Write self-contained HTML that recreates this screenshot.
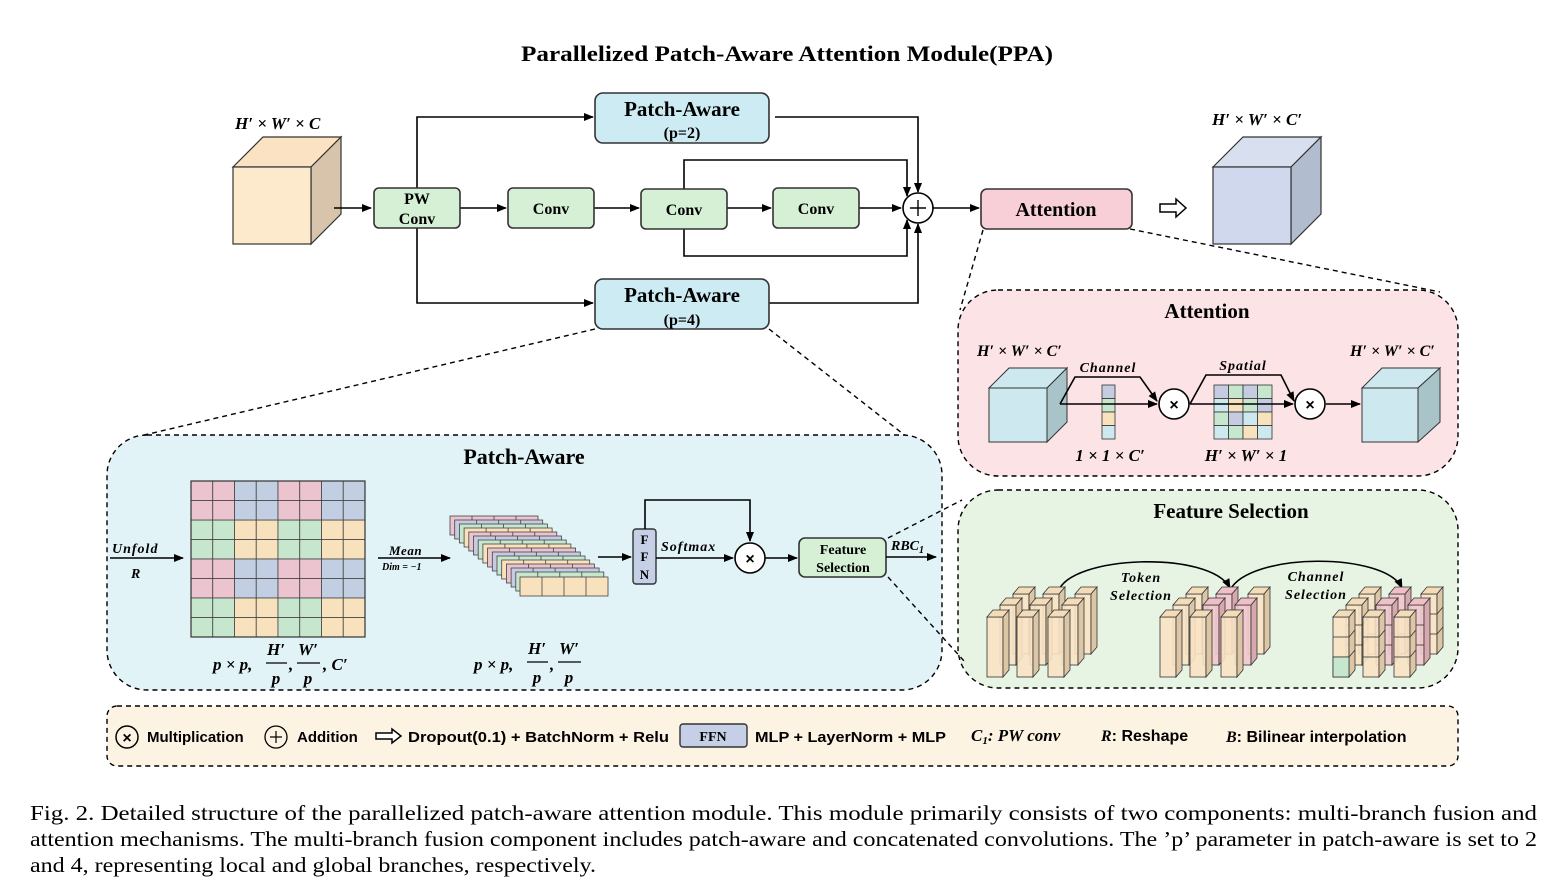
<!DOCTYPE html>
<html><head><meta charset="utf-8"><style>
html,body{margin:0;padding:0;background:#fff;}
svg{display:block;}
.s{font-family:"Liberation Serif",serif;font-weight:bold;}
.i{font-family:"Liberation Serif",serif;font-weight:bold;font-style:italic;}
.l{font-family:"Liberation Sans",sans-serif;font-weight:bold;font-size:15px;}
.c{font-family:"Liberation Serif",serif;font-size:21px;}
.box{stroke:#333;stroke-width:1.6;}
.ln{stroke:#000;stroke-width:1.6;fill:none;}
.dash{stroke:#000;stroke-width:1.4;stroke-dasharray:5 4;}
</style></head><body>
<svg width="1552" height="880" viewBox="0 0 1552 880" xmlns="http://www.w3.org/2000/svg">
<defs>
<marker id="a" markerWidth="10" markerHeight="10" refX="9" refY="5" orient="auto" markerUnits="userSpaceOnUse"><path d="M0,1 L10,5 L0,9 z" fill="#000"/></marker>
<g id="colP"><rect x="0" y="0" width="16" height="60" fill="#f9e3c4" fill-opacity="0.9" stroke="#333" stroke-width="0.8"/><polygon points="0,0 6,-7 22,-7 16,0" fill="#f5dcb8" stroke="#333" stroke-width="0.8"/><polygon points="16,0 22,-7 22,53 16,60" fill="#dcc6a6" stroke="#333" stroke-width="0.8"/></g>
<g id="colK"><rect x="0" y="0" width="16" height="60" fill="#f2c6cc" fill-opacity="0.9" stroke="#333" stroke-width="0.8"/><polygon points="0,0 6,-7 22,-7 16,0" fill="#f0c0c8" stroke="#333" stroke-width="0.8"/><polygon points="16,0 22,-7 22,53 16,60" fill="#d7a8ae" stroke="#333" stroke-width="0.8"/></g>
<g id="colS"><use href="#colP"/><line x1="0" y1="20" x2="16" y2="20" stroke="#333" stroke-width="0.8"/><line x1="0" y1="40" x2="16" y2="40" stroke="#333" stroke-width="0.8"/><line x1="16" y1="20" x2="22" y2="13" stroke="#333" stroke-width="0.8"/><line x1="16" y1="40" x2="22" y2="33" stroke="#333" stroke-width="0.8"/></g>
<g id="colSK"><use href="#colK"/><line x1="0" y1="20" x2="16" y2="20" stroke="#333" stroke-width="0.8"/><line x1="0" y1="40" x2="16" y2="40" stroke="#333" stroke-width="0.8"/></g>
</defs>

<text class="s" x="787" y="61" font-size="22" text-anchor="middle" textLength="532" lengthAdjust="spacingAndGlyphs">Parallelized Patch-Aware Attention Module(PPA)</text>

<!-- input cube -->
<polygon points="233,167 263,137 341,137 311,167" fill="#fbe2c2" stroke="#333" stroke-width="1.2"/>
<polygon points="311,167 341,137 341,214 311,244" fill="#d8c4ab" stroke="#333" stroke-width="1.2"/>
<rect x="233" y="167" width="78" height="77" fill="#fde9cc" stroke="#333" stroke-width="1.2"/>
<text class="i" x="235" y="129" font-size="17">H′ × W′ × C</text>

<!-- connectors -->
<path class="ln" d="M334,208 H371" marker-end="url(#a)"/>
<path class="ln" d="M460,208 H506" marker-end="url(#a)"/>
<path class="ln" d="M594,208 H639" marker-end="url(#a)"/>
<path class="ln" d="M727,208 H771" marker-end="url(#a)"/>
<path class="ln" d="M859,208 H901" marker-end="url(#a)"/>
<path class="ln" d="M417,188 V117 H593" marker-end="url(#a)"/>
<path class="ln" d="M417,228 V303 H593" marker-end="url(#a)"/>
<path class="ln" d="M775,117 H918 V192" marker-end="url(#a)"/>
<path class="ln" d="M769,303 H918 V224" marker-end="url(#a)"/>
<path class="ln" d="M684,189 V160 H907 V196" marker-end="url(#a)"/>
<path class="ln" d="M684,229 V256 H907 V220" marker-end="url(#a)"/>
<path class="ln" d="M933,208 H979" marker-end="url(#a)"/>
<circle cx="918" cy="208" r="15" fill="#fff" stroke="#000" stroke-width="1.6"/>
<path d="M910,208 H926 M918,200 V216" stroke="#000" stroke-width="1.4"/>

<rect class="box" x="374" y="188" width="86" height="40" rx="5" fill="#d5f0d4"/>
<text class="s" x="417" y="204" font-size="16" text-anchor="middle">PW</text>
<text class="s" x="417" y="224" font-size="16" text-anchor="middle">Conv</text>
<rect class="box" x="508" y="188" width="86" height="40" rx="5" fill="#d5f0d4"/>
<text class="s" x="551" y="214" font-size="16" text-anchor="middle">Conv</text>
<rect class="box" x="641" y="189" width="86" height="40" rx="5" fill="#d5f0d4"/>
<text class="s" x="684" y="215" font-size="16" text-anchor="middle">Conv</text>
<rect class="box" x="773" y="188" width="86" height="40" rx="5" fill="#d5f0d4"/>
<text class="s" x="816" y="214" font-size="16" text-anchor="middle">Conv</text>

<rect class="box" x="595" y="93" width="174" height="50" rx="8" fill="#cdebf3"/>
<text class="s" x="682" y="116" font-size="21" text-anchor="middle">Patch-Aware</text>
<text class="s" x="682" y="138" font-size="16" text-anchor="middle">(p=2)</text>
<rect class="box" x="595" y="279" width="174" height="50" rx="8" fill="#cdebf3"/>
<text class="s" x="682" y="302" font-size="21" text-anchor="middle">Patch-Aware</text>
<text class="s" x="682" y="325" font-size="16" text-anchor="middle">(p=4)</text>

<rect class="box" x="981" y="189" width="151" height="40" rx="6" fill="#f8cfd7"/>
<text class="s" x="1056" y="216" font-size="20" text-anchor="middle">Attention</text>

<path d="M1160,204 H1176 V199 L1186,208 L1176,217 V212 H1160 Z" fill="#fff" stroke="#000" stroke-width="1.5"/>

<!-- output cube -->
<polygon points="1213,167 1243,137 1321,137 1291,167" fill="#d8e0f0" stroke="#333" stroke-width="1.2"/>
<polygon points="1291,167 1321,137 1321,214 1291,244" fill="#b2bccf" stroke="#333" stroke-width="1.2"/>
<rect x="1213" y="167" width="78" height="77" fill="#cfd8ec" stroke="#333" stroke-width="1.2"/>
<text class="i" x="1212" y="125" font-size="17">H′ × W′ × C′</text>

<!-- dashed zoom lines -->
<path class="dash" style="fill:none" d="M983,230 L960,310"/>
<path class="dash" style="fill:none" d="M1130,229 L1440,292"/>
<path class="dash" style="fill:none" d="M595,329 L140,436"/>
<path class="dash" style="fill:none" d="M769,329 L930,455"/>

<!-- Attention panel -->
<rect class="dash" style="fill:#fbe3e6" x="958" y="290" width="500" height="186" rx="40"/>
<text class="s" x="1207" y="318" font-size="21" text-anchor="middle">Attention</text>
<text class="i" x="977" y="356" font-size="16">H′ × W′ × C′</text>
<text class="i" x="1350" y="356" font-size="16">H′ × W′ × C′</text>
<polygon points="989,388 1009,368 1067,368 1047,388" fill="#cde8ee" stroke="#333" stroke-width="1"/>
<polygon points="1047,388 1067,368 1067,422 1047,442" fill="#a8c4c9" stroke="#333" stroke-width="1"/>
<rect x="989" y="388" width="58" height="54" fill="#cde8ee" stroke="#333" stroke-width="1"/>
<polygon points="1362,388 1382,368 1440,368 1418,388" fill="#cde8ee" stroke="#333" stroke-width="1"/>
<polygon points="1418,388 1440,368 1440,422 1418,442" fill="#a8c4c9" stroke="#333" stroke-width="1"/>
<rect x="1362" y="388" width="56" height="54" fill="#cde8ee" stroke="#333" stroke-width="1"/>
<rect x="1102" y="385" width="13" height="13.5" fill="#c5cce2" stroke="#333" stroke-width="0.8"/>
<rect x="1102" y="398.5" width="13" height="13.5" fill="#c6e6cd" stroke="#333" stroke-width="0.8"/>
<rect x="1102" y="412" width="13" height="13.5" fill="#f8e2bd" stroke="#333" stroke-width="0.8"/>
<rect x="1102" y="425.5" width="13" height="13.5" fill="#cde8ee" stroke="#333" stroke-width="0.8"/>
<g stroke="#333" stroke-width="0.8">
<rect x="1214" y="385" width="14.5" height="13.5" fill="#c5cce2"/><rect x="1228.5" y="385" width="14.5" height="13.5" fill="#c6e6cd"/><rect x="1243" y="385" width="14.5" height="13.5" fill="#c5cce2"/><rect x="1257.5" y="385" width="14.5" height="13.5" fill="#c6e6cd"/>
<rect x="1214" y="398.5" width="14.5" height="13.5" fill="#cde8ee"/><rect x="1228.5" y="398.5" width="14.5" height="13.5" fill="#f8e2bd"/><rect x="1243" y="398.5" width="14.5" height="13.5" fill="#c6e6cd"/><rect x="1257.5" y="398.5" width="14.5" height="13.5" fill="#c5cce2"/>
<rect x="1214" y="412" width="14.5" height="13.5" fill="#c6e6cd"/><rect x="1228.5" y="412" width="14.5" height="13.5" fill="#c5cce2"/><rect x="1243" y="412" width="14.5" height="13.5" fill="#cde8ee"/><rect x="1257.5" y="412" width="14.5" height="13.5" fill="#f8e2bd"/>
<rect x="1214" y="425.5" width="14.5" height="13.5" fill="#cde8ee"/><rect x="1228.5" y="425.5" width="14.5" height="13.5" fill="#c6e6cd"/><rect x="1243" y="425.5" width="14.5" height="13.5" fill="#f8e2bd"/><rect x="1257.5" y="425.5" width="14.5" height="13.5" fill="#cde8ee"/>
</g>
<path class="ln" d="M1060,404 L1075,377 H1140 L1157,401" marker-end="url(#a)"/>
<path class="ln" d="M1060,404 H1157" marker-end="url(#a)"/>
<path class="ln" d="M1190,404 L1206,375 H1281 L1294,401" marker-end="url(#a)"/>
<path class="ln" d="M1190,404 H1293" marker-end="url(#a)"/>
<path class="ln" d="M1326,404 H1360" marker-end="url(#a)"/>
<circle cx="1174" cy="404" r="15" fill="#fff" stroke="#000" stroke-width="1.6"/>
<text x="1174" y="410" font-family="Liberation Sans,sans-serif" font-size="16" font-weight="bold" text-anchor="middle">×</text>
<circle cx="1310" cy="404" r="15" fill="#fff" stroke="#000" stroke-width="1.6"/>
<text x="1310" y="410" font-family="Liberation Sans,sans-serif" font-size="16" font-weight="bold" text-anchor="middle">×</text>
<text class="i" x="1108" y="372" font-size="14" text-anchor="middle" letter-spacing="1">Channel</text>
<text class="i" x="1243" y="370" font-size="14" text-anchor="middle" letter-spacing="1">Spatial</text>
<text class="i" x="1110" y="461" font-size="17" text-anchor="middle">1 × 1 × C′</text>
<text class="i" x="1246" y="461" font-size="17" text-anchor="middle">H′ × W′ × 1</text>

<!-- Feature Selection panel -->
<rect class="dash" style="fill:#e7f4e4" x="958" y="490" width="500" height="198" rx="40"/>
<text class="s" x="1231" y="518" font-size="21" text-anchor="middle">Feature Selection</text>
<path class="ln" d="M1058,592 C1070,555 1210,550 1230,588" marker-end="url(#a)"/>
<path class="ln" d="M1230,590 C1250,552 1385,552 1402,588" marker-end="url(#a)"/>
<text class="i" x="1141" y="582" font-size="14" text-anchor="middle" letter-spacing="1">Token</text>
<text class="i" x="1141" y="600" font-size="14" text-anchor="middle" letter-spacing="1">Selection</text>
<text class="i" x="1316" y="581" font-size="14" text-anchor="middle" letter-spacing="1">Channel</text>
<text class="i" x="1316" y="599" font-size="14" text-anchor="middle" letter-spacing="1">Selection</text>
<use href="#colP" x="1013" y="594"/><use href="#colP" x="1043" y="594"/><use href="#colP" x="1075" y="594"/>
<use href="#colP" x="1000" y="605"/><use href="#colP" x="1030" y="605"/><use href="#colP" x="1062" y="605"/>
<use href="#colP" x="987" y="617"/><use href="#colP" x="1017" y="617"/><use href="#colP" x="1048" y="617"/>
<use href="#colP" x="1186" y="594"/><use href="#colK" x="1216" y="594"/><use href="#colP" x="1248" y="594"/>
<use href="#colP" x="1173" y="605"/><use href="#colK" x="1203" y="605"/><use href="#colK" x="1235" y="605"/>
<use href="#colP" x="1160" y="617"/><use href="#colP" x="1190" y="617"/><use href="#colP" x="1221" y="617"/>
<use href="#colS" x="1359" y="594"/><use href="#colSK" x="1389" y="594"/><use href="#colS" x="1421" y="594"/>
<use href="#colS" x="1346" y="605"/><use href="#colSK" x="1376" y="605"/><use href="#colSK" x="1408" y="605"/>
<use href="#colS" x="1333" y="617"/><use href="#colS" x="1363" y="617"/><use href="#colS" x="1394" y="617"/>
<rect x="1333" y="657" width="16" height="20" fill="#c6e6cd" stroke="#333" stroke-width="0.8"/>

<!-- Patch-Aware panel -->
<rect class="dash" style="fill:#e2f3f7" x="107" y="435" width="835" height="255" rx="40"/>
<text class="s" x="524" y="464" font-size="22" text-anchor="middle">Patch-Aware</text>
<path class="ln" d="M110,558 H183" marker-end="url(#a)"/>
<text class="i" x="112" y="553" font-size="14" letter-spacing="1">Unfold</text>
<text class="i" x="131" y="578" font-size="14">R</text>
<g stroke="#444" stroke-width="0.8">
<g id="rA"><rect x="191" y="481" width="21.75" height="19.5" fill="#ebc4cf"/><rect x="212.75" y="481" width="21.75" height="19.5" fill="#ebc4cf"/><rect x="234.5" y="481" width="21.75" height="19.5" fill="#c2cfe2"/><rect x="256.25" y="481" width="21.75" height="19.5" fill="#c2cfe2"/><rect x="278" y="481" width="21.75" height="19.5" fill="#ebc4cf"/><rect x="299.75" y="481" width="21.75" height="19.5" fill="#ebc4cf"/><rect x="321.5" y="481" width="21.75" height="19.5" fill="#c2cfe2"/><rect x="343.25" y="481" width="21.75" height="19.5" fill="#c2cfe2"/></g>
<g id="rB"><rect x="191" y="520" width="21.75" height="19.5" fill="#c6e6cd"/><rect x="212.75" y="520" width="21.75" height="19.5" fill="#c6e6cd"/><rect x="234.5" y="520" width="21.75" height="19.5" fill="#f8e2bd"/><rect x="256.25" y="520" width="21.75" height="19.5" fill="#f8e2bd"/><rect x="278" y="520" width="21.75" height="19.5" fill="#c6e6cd"/><rect x="299.75" y="520" width="21.75" height="19.5" fill="#c6e6cd"/><rect x="321.5" y="520" width="21.75" height="19.5" fill="#f8e2bd"/><rect x="343.25" y="520" width="21.75" height="19.5" fill="#f8e2bd"/></g>
<use href="#rA" y="19.5"/><use href="#rB" y="19.5"/><use href="#rA" y="78"/><use href="#rA" y="97.5"/><use href="#rB" y="78"/><use href="#rB" y="97.5"/>
</g>
<rect x="191" y="481" width="174" height="156" fill="none" stroke="#333" stroke-width="1.2"/>
<g class="i" font-size="17">
<text x="213" y="670">p × p,</text>
<text x="276" y="655" text-anchor="middle">H′</text><line x1="266" y1="663" x2="287" y2="663" stroke="#000" stroke-width="1.2"/><text x="276" y="684" text-anchor="middle">p</text>
<text x="289" y="670">,</text>
<text x="308" y="655" text-anchor="middle">W′</text><line x1="297" y1="663" x2="320" y2="663" stroke="#000" stroke-width="1.2"/><text x="308" y="684" text-anchor="middle">p</text>
<text x="323" y="670">, C′</text>
<text x="474" y="670">p × p,</text>
<text x="537" y="654" text-anchor="middle">H′</text><line x1="527" y1="662" x2="548" y2="662" stroke="#000" stroke-width="1.2"/><text x="537" y="683" text-anchor="middle">p</text>
<text x="550" y="670">,</text>
<text x="569" y="654" text-anchor="middle">W′</text><line x1="558" y1="662" x2="581" y2="662" stroke="#000" stroke-width="1.2"/><text x="569" y="683" text-anchor="middle">p</text>
</g>
<path class="ln" d="M378,558 H450" marker-end="url(#a)"/>
<text class="i" x="389" y="555" font-size="13" letter-spacing="0.5">Mean</text>
<text class="i" x="382" y="570" font-size="10">Dim = −1</text>
<g stroke="#444" stroke-width="0.8">
<g transform="translate(450,516)"><rect width="88" height="19" fill="#ebc4cf"/><path d="M22,0V19M44,0V19M66,0V19"/></g>
<g transform="translate(454.7,520)"><rect width="88" height="19" fill="#c5cce2"/><path d="M22,0V19M44,0V19M66,0V19"/></g>
<g transform="translate(459.4,524)"><rect width="88" height="19" fill="#c6e6cd"/><path d="M22,0V19M44,0V19M66,0V19"/></g>
<g transform="translate(464.1,528)"><rect width="88" height="19" fill="#f8e2bd"/><path d="M22,0V19M44,0V19M66,0V19"/></g>
<g transform="translate(468.8,532)"><rect width="88" height="19" fill="#ebc4cf"/><path d="M22,0V19M44,0V19M66,0V19"/></g>
<g transform="translate(473.5,536)"><rect width="88" height="19" fill="#c5cce2"/><path d="M22,0V19M44,0V19M66,0V19"/></g>
<g transform="translate(478.2,540)"><rect width="88" height="19" fill="#c6e6cd"/><path d="M22,0V19M44,0V19M66,0V19"/></g>
<g transform="translate(482.9,544)"><rect width="88" height="19" fill="#f8e2bd"/><path d="M22,0V19M44,0V19M66,0V19"/></g>
<g transform="translate(487.6,548)"><rect width="88" height="19" fill="#ebc4cf"/><path d="M22,0V19M44,0V19M66,0V19"/></g>
<g transform="translate(492.3,552)"><rect width="88" height="19" fill="#c5cce2"/><path d="M22,0V19M44,0V19M66,0V19"/></g>
<g transform="translate(497,556)"><rect width="88" height="19" fill="#c6e6cd"/><path d="M22,0V19M44,0V19M66,0V19"/></g>
<g transform="translate(501.7,560)"><rect width="88" height="19" fill="#f8e2bd"/><path d="M22,0V19M44,0V19M66,0V19"/></g>
<g transform="translate(506.4,564)"><rect width="88" height="19" fill="#ebc4cf"/><path d="M22,0V19M44,0V19M66,0V19"/></g>
<g transform="translate(511.1,568)"><rect width="88" height="19" fill="#c5cce2"/><path d="M22,0V19M44,0V19M66,0V19"/></g>
<g transform="translate(515.8,572)"><rect width="88" height="19" fill="#c6e6cd"/><path d="M22,0V19M44,0V19M66,0V19"/></g>
<g transform="translate(520,577)"><rect width="88" height="19" fill="#f8e2bd"/><path d="M22,0V19M44,0V19M66,0V19"/></g>
</g>
<path class="ln" d="M598,557 H631" marker-end="url(#a)"/>
<rect x="633" y="529" width="23" height="55" rx="3" fill="#c5cfe6" stroke="#333" stroke-width="1.4"/>
<text class="s" x="644.5" y="544" font-size="13" text-anchor="middle">F</text>
<text class="s" x="644.5" y="561" font-size="13" text-anchor="middle">F</text>
<text class="s" x="644.5" y="579" font-size="13" text-anchor="middle">N</text>
<path class="ln" d="M656,558 H733" marker-end="url(#a)"/>
<path class="ln" d="M645,529 V500 H750 V541" marker-end="url(#a)"/>
<text class="i" x="661" y="551" font-size="14" letter-spacing="1">Softmax</text>
<circle cx="750" cy="558" r="15" fill="#fff" stroke="#000" stroke-width="1.6"/>
<text x="750" y="564" font-family="Liberation Sans,sans-serif" font-size="16" font-weight="bold" text-anchor="middle">×</text>
<path class="ln" d="M765,558 H797" marker-end="url(#a)"/>
<rect class="box" x="799" y="538" width="87" height="39" rx="6" fill="#d5f0d4"/>
<text class="s" x="843" y="554" font-size="14" text-anchor="middle">Feature</text>
<text class="s" x="843" y="572" font-size="14" text-anchor="middle">Selection</text>
<path class="ln" d="M886,557 H936" marker-end="url(#a)"/>
<text class="i" x="891" y="550" font-size="14">RBC<tspan font-size="10" dy="3">1</tspan></text>
<path class="dash" style="fill:none" d="M888,538 L962,500"/>
<path class="dash" style="fill:none" d="M888,577 L965,662"/>

<!-- legend -->
<rect class="dash" style="fill:#fdf3e3" x="107" y="706" width="1351" height="60" rx="10"/>
<circle cx="127" cy="737" r="11" fill="none" stroke="#000" stroke-width="1.5"/>
<text x="127" y="743" font-family="Liberation Sans,sans-serif" font-size="16" font-weight="bold" text-anchor="middle">×</text>
<text class="l" x="147" y="742">Multiplication</text>
<circle cx="276" cy="737" r="11" fill="none" stroke="#000" stroke-width="1.3"/>
<path d="M270,737 H282 M276,731 V743" stroke="#000" stroke-width="1.2"/>
<text class="l" x="297" y="742">Addition</text>
<path d="M376,733 H392 V729 L401,736 L392,743 V739 H376 Z" fill="#fff" stroke="#000" stroke-width="1.5"/>
<text class="l" x="408" y="742" textLength="261" lengthAdjust="spacingAndGlyphs">Dropout(0.1) + BatchNorm + Relu</text>
<rect x="680" y="724" width="67" height="23" rx="3" fill="#c5cfe6" stroke="#333" stroke-width="1.4"/>
<text class="s" x="713" y="741" font-size="14" text-anchor="middle">FFN</text>
<text class="l" x="755" y="742" textLength="191" lengthAdjust="spacingAndGlyphs">MLP + LayerNorm + MLP</text>
<text class="i" x="971" y="741" font-size="17">C<tspan font-size="11" dy="3">1</tspan><tspan dy="-3">: PW conv</tspan></text>
<text x="1101" y="741" font-size="16" font-family="Liberation Serif,serif" font-weight="bold"><tspan font-style="italic">R</tspan><tspan font-family="Liberation Sans,sans-serif">: Reshape</tspan></text>
<text x="1226" y="742" font-size="16" font-family="Liberation Serif,serif" font-weight="bold"><tspan font-style="italic">B</tspan><tspan font-family="Liberation Sans,sans-serif">: Bilinear interpolation</tspan></text>

<!-- caption -->
<text class="c" x="30" y="820" font-size="22" textLength="1507" lengthAdjust="spacingAndGlyphs">Fig. 2.  Detailed structure of the parallelized patch-aware attention module. This module primarily consists of two components: multi-branch fusion and</text>
<text class="c" x="30" y="846" font-size="22" textLength="1507" lengthAdjust="spacingAndGlyphs">attention mechanisms. The multi-branch fusion component includes patch-aware and concatenated convolutions. The ’p’ parameter in patch-aware is set to 2</text>
<text class="c" x="30" y="872" font-size="22" textLength="566" lengthAdjust="spacingAndGlyphs">and 4, representing local and global branches, respectively.</text>
</svg>
</body></html>
